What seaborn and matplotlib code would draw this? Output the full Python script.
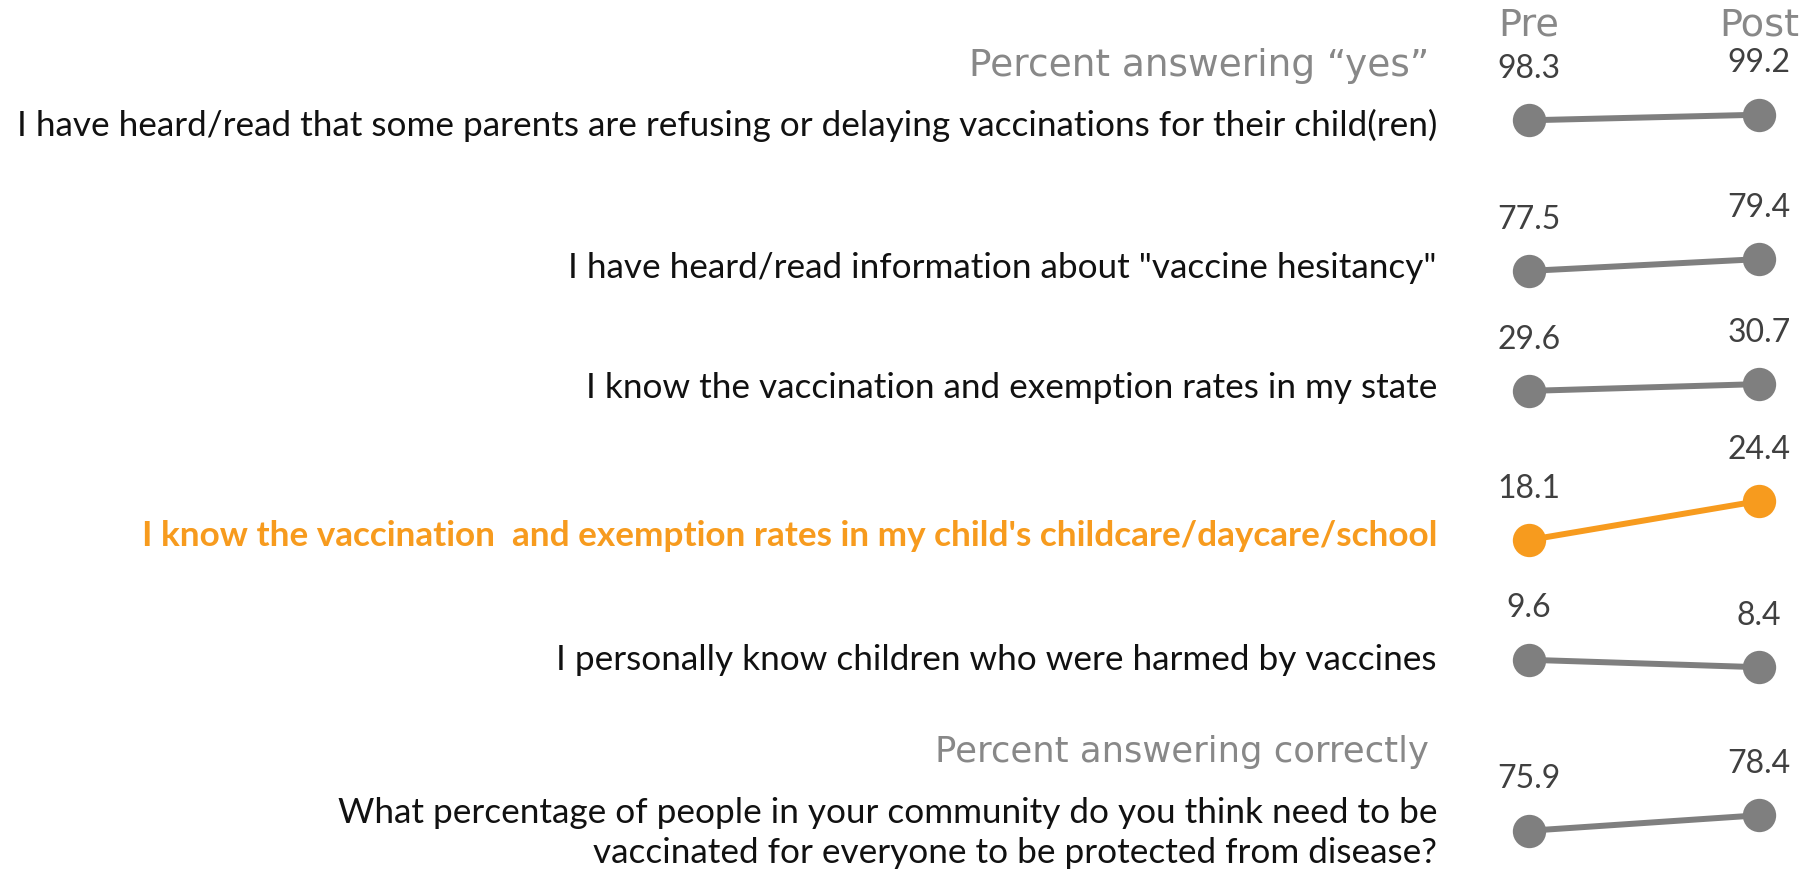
import pandas as pd
import seaborn as sns
import matplotlib.pyplot as plt

# Survey items and pre/post percentages
questions = [
    "I have heard/read that some parents are refusing or delaying vaccinations for their child(ren)",
    "I have heard/read information about \"vaccine hesitancy\"",
    "I know the vaccination and exemption rates in my state",
    "I know the vaccination  and exemption rates in my child's childcare/daycare/school",
    "I personally know children who were harmed by vaccines",
    "What percentage of people in your community do you think need to be\nvaccinated for everyone to be protected from disease?",
]
pre = [98.3, 77.5, 29.6, 18.1, 9.6, 75.9]
post = [99.2, 79.4, 30.7, 24.4, 8.4, 78.4]
periods = ["Pre", "Post"]
highlight = 3

# Layout (pixels in a 1814x874 canvas)
W, H = 1814, 874
row_center = [117.5, 265, 387.5, 520.5, 663.5, 823]
label_y = [125, 268, 388, 536, 659.5, 833]
label_right = 1437
x_pre, x_post = 1529, 1759
span = 20            # data units shown per row
px_per_unit = 6.2

GREY = "#7f7f7f"
ORANGE = "#f79b1e"
FONT = ["Lato", "DejaVu Sans"]
HEAD_FONT = ["DejaVu Sans"]

sns.set_theme(style="white")
plt.rcParams["font.family"] = FONT

fig = plt.figure(figsize=(W / 100, H / 100), dpi=100)

for i, q in enumerate(questions):
    color = ORANGE if i == highlight else GREY
    df = pd.DataFrame({"x": [0, 1], "value": [pre[i], post[i]], "period": periods})
    h = span * px_per_unit
    ax = fig.add_axes([x_pre / W, 1 - (row_center[i] + h / 2) / H, (x_post - x_pre) / W, h / H])
    sns.lineplot(data=df, x="x", y="value", ax=ax, color=color, linewidth=4.3,
                 marker="o", markersize=24, markeredgewidth=0, clip_on=False)
    mid = (pre[i] + post[i]) / 2
    ax.set_ylim(mid - span / 2, mid + span / 2)
    ax.set_xlim(0, 1)
    ax.axis("off")
    for _, r in df.iterrows():
        ax.annotate(f"{r['value']:.1f}", (r["x"], r["value"]), xytext=(0, 37),
                    textcoords="offset points", ha="center", va="center",
                    fontsize=23, color="#404040")
    fig.text(label_right / W, 1 - label_y[i] / H, q, ha="right", va="center",
             multialignment="right", fontsize=25.3, linespacing=1.3,
             color=ORANGE if i == highlight else "#111111",
             fontweight="bold" if i == highlight else "normal")

# Headers
head = dict(color="#888888", family=HEAD_FONT, va="center")
fig.text(1429 / W, 1 - 66 / H, "Percent answering \u201cyes\u201d", ha="right", fontsize=27, **head)
fig.text(1429 / W, 1 - 752 / H, "Percent answering correctly", ha="right", fontsize=25.5, **head)
fig.text(x_pre / W, 1 - 25 / H, "Pre", ha="center", fontsize=27.5, **head)
fig.text(x_post / W, 1 - 25 / H, "Post", ha="center", fontsize=27.5, **head)

fig.savefig("out.png", dpi=100)
